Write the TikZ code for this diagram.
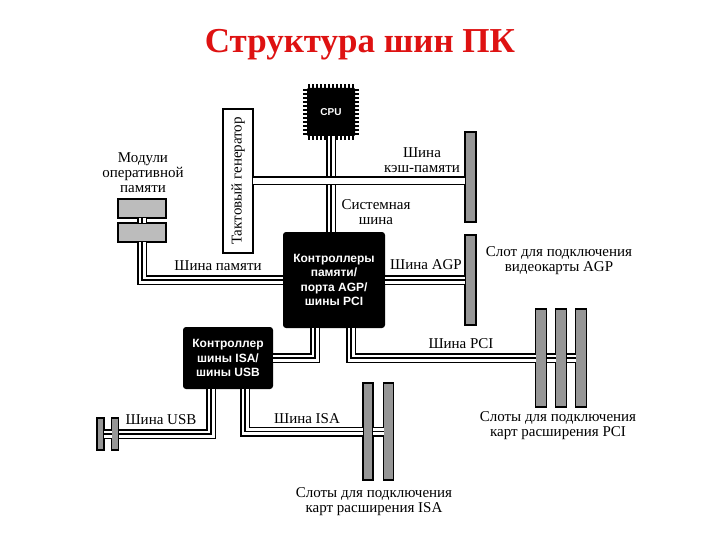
\documentclass[tikz,border=0pt]{standalone}
\usepackage{fontspec}
\setmainfont{Liberation Serif}
\setsansfont{Liberation Sans}
\usetikzlibrary{positioning,calc}
\definecolor{titlered}{RGB}{222,18,18}
\definecolor{slotgray}{RGB}{150,150,150}
\definecolor{modgray}{RGB}{188,188,188}
\tikzset{
  chip/.style={fill=black, rounded corners=3pt, inner sep=0pt, outer sep=0pt, text=white,
    font=\sffamily\bfseries\fontsize{12}{14.5}\selectfont, align=center},
  slot/.style={draw, line width=1.4pt, fill=slotgray, inner sep=0pt, outer sep=0pt,
    minimum width=11pt, minimum height=90pt},
  module/.style={draw, line width=1.3pt, fill=modgray, inner sep=0pt, outer sep=0pt,
    minimum width=48pt, minimum height=19pt},
  clockbox/.style={draw, line width=1.4pt, fill=white, inner sep=0pt, outer sep=0pt,
    minimum width=144pt, minimum height=30pt, font=\fontsize{15}{15}\selectfont},
  lbl/.style={inner sep=0pt, align=center, font=\fontsize{15}{15}\selectfont},
  heading/.style={inner sep=0pt, text=titlered, font=\bfseries\fontsize{35}{40}\selectfont},
  pin/.style={line width=2pt},
  bus/.style={line width=10pt, postaction={draw=white, line width=7pt},
    postaction={draw=black, line width=1.4pt}},
  bustwo/.style={line width=9pt, postaction={draw=white, line width=6pt}}
}
\begin{document}
\begin{tikzpicture}[x=1pt, y=-1pt]
%
\useasboundingbox (0,0) rectangle (720,540);
%
\node[heading] (title) at (360,45) {Структура шин ПК};
%
% processor
\node[chip, rounded corners=1pt, minimum size=48pt] (cpu) at (331,112) {\fontsize{10}{12}\selectfont CPU};
\foreach \p in {-22,-18,...,22} {
  \draw[pin] ([xshift=\p pt]cpu.north) -- ++(0,-4);
  \draw[pin] ([xshift=\p pt]cpu.south) -- ++(0,4);
  \draw[pin] ([yshift=\p pt]cpu.west) -- ++(-4,0);
  \draw[pin] ([yshift=\p pt]cpu.east) -- ++(4,0);
}
%
\node[clockbox, rotate=90] (clk) at (238,181) {Тактовый генератор};
\node[module] (mod1) at (142,208.5) {};
\node[module] (mod2) at (142,232.5) {};
%
\node[chip, minimum width=102pt, minimum height=96pt] (ctrl) at (334,280)
  {Контроллеры\\памяти/\\порта AGP/\\шины PCI};
\node[chip, minimum width=90pt, minimum height=62pt] (isactrl) at (228,358)
  {Контроллер\\шины ISA/\\шины USB};
%
% slots
\node[slot] (cacheslot) at (470.5,177) {};
\node[slot] (agpslot) at (470.5,280) {};
\node[slot, minimum height=98pt] (pci1) at (541,358) {};
\node[slot, minimum height=98pt] (pci2) at (561,358) {};
\node[slot, minimum height=98pt] (pci3) at (581,358) {};
\node[slot, minimum width=10pt, minimum height=97pt] (isa1) at (368,431.5) {};
\node[slot, minimum width=10pt, minimum height=97pt] (isa2) at (388.5,431.5) {};
\node[slot, minimum width=7pt, minimum height=32pt] (usb1) at (100.5,434) {};
\node[slot, minimum width=7pt, minimum height=32pt] (usb2) at (115,434) {};
%
% buses
\draw[bus] (cpu.south) -- (cpu.south |- ctrl.north);
\draw[bustwo] (clk.south) -- (clk.south -| cacheslot.west);
\draw[bus] (mod1.south) -- (mod2.north);
\draw[bus] (mod2.south) |- (ctrl.west);
\draw[bus] (ctrl.east) -- (agpslot.west);
\draw[bus] ($(ctrl.south)+(-19,0)$) |- (isactrl.east);
\draw[bus] ($(ctrl.south)+(17,0)$) |- (pci1.west);
\draw[bus] (pci1.east) -- (pci2.west);
\draw[bus] (pci2.east) -- (pci3.west);
\draw[bus] ($(isactrl.south)+(-17,0)$) |- (usb2.east);
\draw[bus] (usb2.west) -- (usb1.east);
\draw[bus] ($(isactrl.south)+(17,0)$) |- (isa1.west);
\draw[bus] (isa1.east) -- (isa2.west);
%
% labels
\node[lbl] (modlbl) at (143,173) {Модули\\оперативной\\памяти};
\node[lbl] (cachelbl) at (422,160) {Шина\\кэш-памяти};
\node[lbl] (syslbl) at (376,212) {Системная\\шина};
\node[lbl] (memlbl) at (218,266) {Шина памяти};
\node[lbl] (agplbl) at (426,265) {Шина AGP};
\node[lbl] (agpslotlbl) at (559,261) {Слот для подключения\\видеокарты AGP};
\node[lbl] (pcilbl) at (461,344) {Шина PCI};
\node[lbl] (pcislotlbl) at (558,426) {Слоты для подключения\\карт расширения PCI};
\node[lbl] (usblbl) at (161,420) {Шина USB};
\node[lbl] (isalbl) at (307,419) {Шина ISA};
\node[lbl] (isaslotlbl) at (374,502) {Слоты для подключения\\карт расширения ISA};
%
\end{tikzpicture}
\end{document}
